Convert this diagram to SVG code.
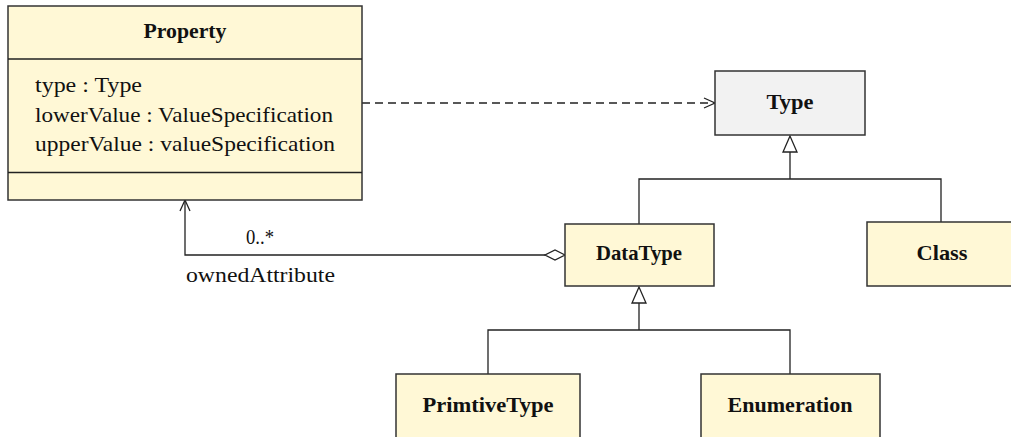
<svg xmlns="http://www.w3.org/2000/svg" width="1011" height="437" viewBox="0 0 1011 437">
<style>
.box{fill:#fff8d6;stroke:#333;stroke-width:1.5}
.gray{fill:#f2f2f2;stroke:#333;stroke-width:1.5}
.ln{fill:none;stroke:#222;stroke-width:1.3}
.dash{fill:none;stroke:#222;stroke-width:1.3;stroke-dasharray:8 5}
.tri{fill:#fff;stroke:#222;stroke-width:1.3}
.t{font-family:"Liberation Serif","DejaVu Serif",serif;font-size:21px;fill:#111}
.b{font-family:"Liberation Serif","DejaVu Serif",serif;font-size:21px;font-weight:bold;fill:#111;text-anchor:middle}
</style>
<g id="connectors">
<path class="dash" d="M362,103 H714"/>
<path class="ln" d="M704,98 L715,103 L704,108"/>
<path class="ln" d="M639,224 V179 H941 V222 M790,179 V152"/>
<path class="tri" d="M790,136 L783,152 L797,152 Z"/>
<path class="ln" d="M488,374 V330 H790 V374 M639,330 V303"/>
<path class="tri" d="M639,287 L632,303 L646,303 Z"/>
<path class="ln" d="M545,255 H185 V201"/>
<path class="ln" d="M180,211 L185,200 L190,211"/>
<path class="tri" d="M565,255 L555,250 L545,255 L555,260 Z"/>
<text class="t" x="246" y="244" textLength="28" lengthAdjust="spacingAndGlyphs">0..*</text>
<text class="t" x="186" y="282" textLength="149" lengthAdjust="spacingAndGlyphs">ownedAttribute</text>
</g>
<g id="Property">
<rect class="box" x="8" y="6" width="354" height="194"/>
<path class="ln" d="M8,59 H362 M8,172.5 H362"/>
<text class="b" x="185" y="38" textLength="83" lengthAdjust="spacingAndGlyphs">Property</text>
<text class="t" x="35" y="92" textLength="107" lengthAdjust="spacingAndGlyphs">type : Type</text>
<text class="t" x="35" y="122" textLength="298" lengthAdjust="spacingAndGlyphs">lowerValue : ValueSpecification</text>
<text class="t" x="35" y="151" textLength="300" lengthAdjust="spacingAndGlyphs">upperValue : valueSpecification</text>
</g>
<g id="Type">
<rect class="gray" x="715" y="71" width="150" height="64"/>
<text class="b" x="790" y="109" textLength="47" lengthAdjust="spacingAndGlyphs">Type</text>
</g>
<g id="DataType">
<rect class="box" x="565" y="224" width="149" height="62"/>
<text class="b" x="639" y="260" textLength="86" lengthAdjust="spacingAndGlyphs">DataType</text>
</g>
<g id="Class">
<rect class="box" x="867" y="222" width="150" height="64"/>
<text class="b" x="942" y="260" textLength="51" lengthAdjust="spacingAndGlyphs">Class</text>
</g>
<g id="PrimtiveType">
<rect class="box" x="396" y="374" width="184" height="80"/>
<text class="b" x="488" y="412" textLength="131" lengthAdjust="spacingAndGlyphs">PrimtiveType</text>
</g>
<g id="Enumeration">
<rect class="box" x="701" y="374" width="179" height="80"/>
<text class="b" x="790" y="412" textLength="125" lengthAdjust="spacingAndGlyphs">Enumeration</text>
</g>
</svg>
